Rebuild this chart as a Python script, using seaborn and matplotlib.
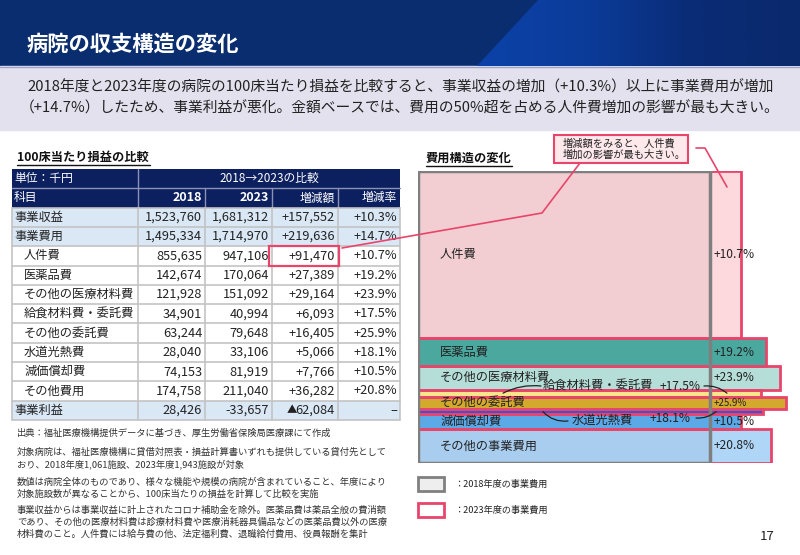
import numpy as np
import matplotlib
matplotlib.use("Agg")
import matplotlib.pyplot as plt
from matplotlib.patches import Rectangle, Polygon
from matplotlib.colors import LinearSegmentedColormap
import seaborn as sns

# ---- table data (per 100 beds, thousand yen) ----
items = ["事業収益", "事業費用", "人件費", "医薬品費", "その他の医療材料費", "給食材料費・委託費",
         "その他の委託費", "水道光熱費", "減価償却費", "その他費用", "事業利益"]
is_total = [True, True, False, False, False, False, False, False, False, False, True]
v2018 = [1523760, 1495334, 855635, 142674, 121928, 34901, 63244, 28040, 74153, 174758, 28426]
v2023 = [1681312, 1714970, 947106, 170064, 151092, 40994, 79648, 33106, 81919, 211040, -33657]
delta = [157552, 219636, 91470, 27389, 29164, 6093, 16405, 5066, 7766, 36282, -62084]
rate = [10.3, 14.7, 10.7, 19.2, 23.9, 17.5, 25.9, 18.1, 10.5, 20.8, None]

# ---- cost structure chart ----
cost_labels = ["人件費", "医薬品費", "その他の医療材料費", "給食材料費・委託費", "その他の委託費",
               "水道光熱費", "減価償却費", "その他の事業費用"]
cost_2018 = v2018[2:10]
cost_rate = rate[2:10]
fill_2018 = ["#f2ced2", "#4ba89f", "#b6ded9", "#fbe58c", "#d3a92d", "#3d52d4", "#5ca9e8", "#a8cdee"]
fill_2023 = ["#fdd8dc", "#4ba89f", "#b6ded9", "#fbe58c", "#d3a92d", "#3d52d4", "#5ca9e8", "#afd6f6"]

RED = "#e8456b"
NAVY = "#0c1f5e"

sns.set_theme(style="white")
plt.rcParams["font.family"] = ["Noto Sans CJK JP", "DejaVu Sans"]

fig = plt.figure(figsize=(8, 5.55), dpi=100)
bg = fig.add_axes([0, 0, 1, 1])
bg.set_xlim(0, 800)
bg.set_ylim(555, 0)
bg.axis("off")

# header band
bg.add_patch(Rectangle((0, 0), 800, 66, color="#0a2d6f", zorder=0))
cmap = LinearSegmentedColormap.from_list("hdr", ["#0c42a8", "#0b3c9a", "#0a2c76", "#0a296c"])
grad = np.linspace(0, 1, 256).reshape(1, -1)
im = bg.imshow(grad, cmap=cmap, extent=(477, 800, 66, 0), aspect="auto", zorder=1)
clip = Polygon([(477, 66), (538, 0), (800, 0), (800, 66)], closed=True, transform=bg.transData)
im.set_clip_path(clip)
bg.set_xlim(0, 800)
bg.set_ylim(555, 0)
bg.text(27, 44, "病院の収支構造の変化", color="white", fontsize=15.3, fontweight="bold", va="center", zorder=3)

# summary band
bg.add_patch(Rectangle((0, 66), 800, 64, color="#e4e1ee", zorder=0))
bg.plot([0, 800], [66.5, 66.5], color="#9aa5cc", lw=1, zorder=1)
bg.text(27, 87, "2018年度と2023年度の病院の100床当たり損益を比較すると、事業収益の増加（+10.3%）以上に事業費用が増加",
        fontsize=10.65, va="center", color="#222222")
bg.text(20, 108, "（+14.7%）したため、事業利益が悪化。金額ベースでは、費用の50%超を占める人件費増加の影響が最も大きい。",
        fontsize=10.65, va="center", color="#222222")

# ---- table ----
bg.text(17, 157, "100床当たり損益の比較", fontsize=8.8, fontweight="bold", va="center", color="#111111")
bg.plot([17, 150], [165, 165], color="#111111", lw=1)

col_edges = [12, 138, 205, 272, 338, 400]
row_top = 169
row_h = 19.3
grid = "#c3c3c3"

# header rows
bg.add_patch(Rectangle((col_edges[0], row_top), col_edges[-1] - col_edges[0], 2 * row_h,
                       facecolor=NAVY, edgecolor="none"))
bg.plot([col_edges[0], col_edges[-1]], [row_top + row_h] * 2, color="#8a93b5", lw=1)
bg.plot([col_edges[1]] * 2, [row_top, row_top + 2 * row_h], color="#8a93b5", lw=1)
for x in col_edges[2:-1]:
    bg.plot([x, x], [row_top + row_h, row_top + 2 * row_h], color="#8a93b5", lw=1)
bg.text(col_edges[0] + 2, row_top + row_h / 2, "単位：千円", color="white", fontsize=8.5, va="center")
bg.text((col_edges[1] + col_edges[-1]) / 2, row_top + row_h / 2, "2018→2023の比較", color="white",
        fontsize=8.5, va="center", ha="center")
y_h2 = row_top + 1.5 * row_h
bg.text(col_edges[0] + 2, y_h2, "科目", color="white", fontsize=8.5, va="center")
for j, (lab, bold) in enumerate([("2018", True), ("2023", True), ("増減額", False), ("増減率", False)]):
    bg.text(col_edges[j + 2] - 3, y_h2, lab, color="white", fontsize=9 if bold else 8.5,
            fontweight="bold" if bold else "normal", va="center", ha="right")

# data rows
for i, name in enumerate(items):
    y0 = row_top + (i + 2) * row_h
    fc = "#dae8f6" if is_total[i] else "white"
    bg.add_patch(Rectangle((col_edges[0], y0), col_edges[-1] - col_edges[0], row_h,
                           facecolor=fc, edgecolor="none", zorder=1))
    yc = y0 + row_h / 2
    bg.text(col_edges[0] + (2 if is_total[i] else 12), yc, name, fontsize=8.8, va="center", color="#222222", zorder=3)
    d = delta[i]
    rtxt = f"+{rate[i]:.1f}%" if rate[i] is not None else "–"
    for j, s in enumerate([f"{v2018[i]:,}", f"{v2023[i]:,}", None, rtxt]):
        if s is None:
            if d > 0:
                bg.text(col_edges[4] - 3, yc, f"+{d:,}", fontsize=9.2, va="center", ha="right",
                        color="#222222", zorder=3)
            else:
                t = bg.text(col_edges[4] - 3, yc, f"{abs(d):,}", fontsize=9.2, va="center", ha="right",
                            color="#222222", zorder=3)
                bg.text(col_edges[4] - 41, yc, "▲", fontsize=7.5, va="center", ha="right",
                        color="#222222", zorder=3)
            continue
        bg.text(col_edges[j + 2] - 3, yc, s, fontsize=9.2, va="center", ha="right", color="#222222", zorder=3)

n_rows = len(items) + 2
y_bot = row_top + n_rows * row_h
for k in range(2, n_rows + 1):
    y = row_top + k * row_h
    bg.plot([col_edges[0], col_edges[-1]], [y, y], color=grid, lw=1.2, zorder=2)
for x in col_edges:
    bg.plot([x, x], [row_top + 2 * row_h, y_bot], color=grid, lw=1.2, zorder=2)

# footnotes
notes = [
    (433, "出典：福祉医療機構提供データに基づき、厚生労働省保険局医療課にて作成"),
    (452, "対象病院は、福祉医療機構に貸借対照表・損益計算書いずれも提供している貸付先として"),
    (464, "おり、2018年度1,061施設、2023年度1,943施設が対象"),
    (482, "数値は病院全体のものであり、様々な機能や規模の病院が含まれていること、年度により"),
    (494, "対象施設数が異なることから、100床当たりの損益を計算して比較を実施"),
    (510, "事業収益からは事業収益に計上されたコロナ補助金を除外。医薬品費は薬品全般の費消額"),
    (522, "であり、その他の医療材料費は診療材料費や医療消耗器具備品などの医薬品費以外の医療"),
    (534, "材料費のこと。人件費には給与費の他、法定福利費、退職給付費用、役員報酬を集計"),
]
for y, s in notes:
    bg.text(17, y, s, fontsize=6.7, va="center", color="#333333")

# ---- cost structure chart ----
bg.text(426, 158, "費用構造の変化", fontsize=8.8, fontweight="bold", va="center", color="#111111")
bg.plot([426, 512], [166, 166], color="#111111", lw=1)

unit_px = 292
ax = fig.add_axes([418 / 800, 1 - 463 / 555, (797 - 418) / 800, 292 / 555])
vals = np.array(cost_2018, dtype=float)
growth = 1 + np.array(cost_rate) / 100
total = vals.sum()
tops = np.cumsum(vals) - vals
centers = tops + vals / 2
ax.set_xlim(0, (797 - 418) / unit_px)
ax.set_ylim(total, 0)
ax.axis("off")

ax.barh(tops, growth, height=vals, left=0, align="edge", color=fill_2023, edgecolor="none", zorder=2)
ax.barh(tops, np.ones_like(vals), height=vals, left=0, align="edge", color=fill_2018, edgecolor="none", zorder=3)
ax.barh(tops, growth, height=vals, left=0, align="edge", fill=False, edgecolor=RED, lw=2, zorder=4)
ax.add_patch(Rectangle((0, 0), 1.0, total, fill=False, edgecolor="#7f7f7f", lw=2.5, zorder=5))

thin = {"給食材料費・委託費", "水道光熱費"}
for lab, c, r in zip(cost_labels, centers, cost_rate):
    if lab in thin:
        continue
    ax.text(22 / unit_px, c, lab, fontsize=8.8, va="center", color="#222222", zorder=6)
    ax.text(1.012, c, f"+{r}%", fontsize=7 if lab == "その他の委託費" else 8.6, va="center",
            color="#222222", zorder=6)

# overlay for callouts and leader lines (above the chart)
ov = fig.add_axes([0, 0, 1, 1])
ov.set_xlim(0, 800)
ov.set_ylim(555, 0)
ov.axis("off")

hl_row = items.index("人件費") + 2
ov.add_patch(Rectangle((col_edges[3] - 3, row_top + hl_row * row_h), col_edges[4] - col_edges[3] + 4, row_h,
                       fill=False, edgecolor=RED, lw=1.6, zorder=4))
ov.plot([col_edges[4] + 4, 542, 580], [248, 213, 163], color=RED, lw=1.2, zorder=4)
ov.add_patch(Rectangle((554, 135), 134, 28, facecolor="#fde8ec", edgecolor=RED, lw=1.5, zorder=4))
ov.text(563, 143, "増減額をみると、人件費", fontsize=7.4, va="center", color="#222222", zorder=5)
ov.text(563, 155, "増加の影響が最も大きい。", fontsize=7.4, va="center", color="#222222", zorder=5)
ov.plot([696, 705, 727], [148, 148, 187], color=RED, lw=1.2, zorder=6)

i_k = cost_labels.index("給食材料費・委託費")
ov.text(543, 386, cost_labels[i_k], fontsize=8.8, va="center", color="#222222", zorder=7)
ov.text(660, 386, f"+{cost_rate[i_k]}%", fontsize=8.6, va="center", color="#222222", zorder=7)
lp = dict(arrowstyle="-", color="#222222", lw=0.9, shrinkA=0, shrinkB=0)
ov.annotate("", xy=((503 - 418) / unit_px, centers[i_k]), xycoords=ax.transData, xytext=(541, 386),
            textcoords="data", arrowprops=dict(lp, connectionstyle="arc3,rad=0.15"), zorder=7)
ov.annotate("", xy=((727 - 418) / unit_px, centers[i_k]), xycoords=ax.transData, xytext=(704, 386),
            textcoords="data", arrowprops=dict(lp, connectionstyle="arc3,rad=-0.2"), zorder=7)

i_w = cost_labels.index("水道光熱費")
ov.text(572, 420, cost_labels[i_w], fontsize=8.8, va="center", color="#222222", zorder=7)
ov.text(650, 419, f"+{cost_rate[i_w]}%", fontsize=8.6, va="center", color="#222222", zorder=7)
ov.annotate("", xy=((543 - 418) / unit_px, centers[i_w]), xycoords=ax.transData, xytext=(568, 421),
            textcoords="data", arrowprops=dict(lp, connectionstyle="arc3,rad=-0.25"), zorder=7)
ov.annotate("", xy=((716 - 418) / unit_px, centers[i_w]), xycoords=ax.transData, xytext=(696, 418),
            textcoords="data", arrowprops=dict(lp, connectionstyle="arc3,rad=0.2"), zorder=7)

# legend
ov.add_patch(Rectangle((418, 477), 26, 14, facecolor="#eeeeee", edgecolor="#808080", lw=2))
ov.add_patch(Rectangle((418, 503), 26, 14, facecolor="white", edgecolor=RED, lw=2))
ov.text(454, 484, "：2018年度の事業費用", fontsize=6.6, va="center", color="#222222")
ov.text(454, 510, "：2023年度の事業費用", fontsize=6.6, va="center", color="#222222")
ov.text(775, 537, "17", fontsize=9.5, va="center", ha="right", color="#222222")

fig.savefig("out.png", dpi=100)
